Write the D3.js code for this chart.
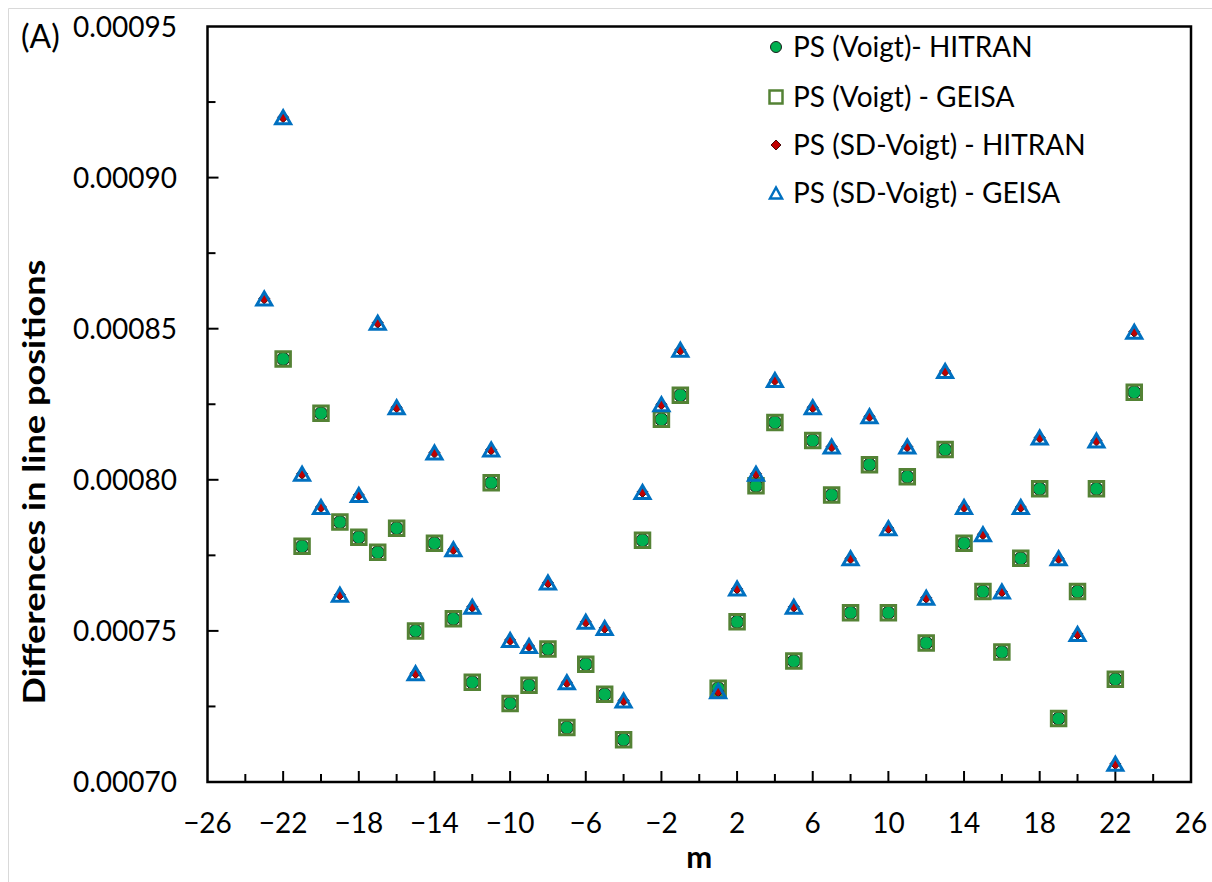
<!DOCTYPE html>
<html>
<head>
<meta charset="utf-8">
<script src="https://cdn.jsdelivr.net/npm/d3@7"></script>
<style>
  html, body { margin: 0; padding: 0; background: #fff; }
  svg { display: block; }
  text { font-family: Lato, "Open Sans", sans-serif; fill: #000; }
</style>
</head>
<body>
<svg id="chart" width="1212" height="882"></svg>
<script>
// ---- data ----
const mVoigt = [-22,-21,-20,-19,-18,-17,-16,-15,-14,-13,-12,-11,-10,-9,-8,-7,-6,-5,-4,-3,-2,-1,
                1,2,3,4,5,6,7,8,9,10,11,12,13,14,15,16,17,18,19,20,21,22,23];
const voigtHitran = [0.000840,0.000778,0.000822,0.000786,0.000781,0.000776,0.000784,0.000750,0.000779,0.000754,0.000733,0.000799,0.000726,0.000732,0.000744,0.000718,0.000739,0.000729,0.000714,0.000780,0.000820,0.000828,
                     0.000731,0.000753,0.000798,0.000819,0.000740,0.000813,0.000795,0.000756,0.000805,0.000756,0.000801,0.000746,0.000810,0.000779,0.000763,0.000743,0.000774,0.000797,0.000721,0.000763,0.000797,0.000734,0.000829];
const voigtGeisa  = [0.000840,0.000778,0.000822,0.000786,0.000781,0.000776,0.000784,0.000750,0.000779,0.000754,0.000733,0.000799,0.000726,0.000732,0.000744,0.000718,0.000739,0.000729,0.000714,0.000780,0.000820,0.000828,
                     0.000731,0.000753,0.000798,0.000819,0.000740,0.000813,0.000795,0.000756,0.000805,0.000756,0.000801,0.000746,0.000810,0.000779,0.000763,0.000743,0.000774,0.000797,0.000721,0.000763,0.000797,0.000734,0.000829];
const mSD = [-23,-22,-21,-20,-19,-18,-17,-16,-15,-14,-13,-12,-11,-10,-9,-8,-7,-6,-5,-4,-3,-2,-1,
             1,2,3,4,5,6,7,8,9,10,11,12,13,14,15,16,17,18,19,20,21,22,23];
const sdHitran = [0.000860,0.000920,0.000802,0.000791,0.000762,0.000795,0.000852,0.000824,0.000736,0.000809,0.000777,0.000758,0.000810,0.000747,0.000745,0.000766,0.000733,0.000753,0.000751,0.000727,0.000796,0.000825,0.000843,
                  0.000730,0.000764,0.000802,0.000833,0.000758,0.000824,0.000811,0.000774,0.000821,0.000784,0.000811,0.000761,0.000836,0.000791,0.000782,0.000763,0.000791,0.000814,0.000774,0.000749,0.000813,0.000706,0.000849];
const sdGeisa  = [0.000860,0.000920,0.000802,0.000791,0.000762,0.000795,0.000852,0.000824,0.000736,0.000809,0.000777,0.000758,0.000810,0.000747,0.000745,0.000766,0.000733,0.000753,0.000751,0.000727,0.000796,0.000825,0.000843,
                  0.000730,0.000764,0.000802,0.000833,0.000758,0.000824,0.000811,0.000774,0.000821,0.000784,0.000811,0.000761,0.000836,0.000791,0.000782,0.000763,0.000791,0.000814,0.000774,0.000749,0.000813,0.000706,0.000849];
const seriesNames = ["PS (Voigt)- HITRAN", "PS (Voigt) - GEISA", "PS (SD-Voigt) - HITRAN", "PS (SD-Voigt) - GEISA"];
const xTickValues = [-26,-22,-18,-14,-10,-6,-2,2,6,10,14,18,22,26];
const yTickValues = [0.00070,0.00075,0.00080,0.00085,0.00090,0.00095];
const panelLabel = "(A)";
const xTitle = "m";
const yTitle = "Differences in line positions";

// ---- layout ----
const svg = d3.select("#chart");
const L = 207.5, R = 1191, T = 26.5, B = 782;
const x = d3.scaleLinear().domain([-26, 26]).range([L, R]);
const y = d3.scaleLinear().domain([0.00070, 0.00095]).range([B, T]);

// light outer chart-area border
svg.append("path").attr("d", "M8.5,882 V8.5 H1212").attr("fill", "none")
   .attr("stroke", "#d9d9d9").attr("stroke-width", 1);

// ticks (inward), minor + major
const xMinor = d3.range(-24, 26, 2).filter(v => !xTickValues.includes(v));
const yMinor = d3.range(0.000725, 0.00095, 0.00005);
const tg = svg.append("g").attr("stroke", "#000").attr("stroke-width", 2);
tg.selectAll(".xmaj").data(xTickValues.slice(1, -1)).join("line")
  .attr("x1", d => x(d)).attr("x2", d => x(d)).attr("y1", B).attr("y2", B - 11);
tg.selectAll(".xmin").data(xMinor).join("line")
  .attr("x1", d => x(d)).attr("x2", d => x(d)).attr("y1", B).attr("y2", B - 8);
tg.selectAll(".ymaj").data(yTickValues.slice(1, -1)).join("line")
  .attr("y1", d => y(d)).attr("y2", d => y(d)).attr("x1", L).attr("x2", L + 11);
tg.selectAll(".ymin").data(yMinor).join("line")
  .attr("y1", d => y(d)).attr("y2", d => y(d)).attr("x1", L).attr("x2", L + 8);

// frame
svg.append("rect").attr("x", L).attr("y", T).attr("width", R - L).attr("height", B - T)
   .attr("fill", "none").attr("stroke", "#000").attr("stroke-width", 2.5);

// tick labels
svg.append("g").selectAll("text").data(xTickValues).join("text")
  .attr("x", d => x(d)).attr("y", 833).attr("text-anchor", "middle")
  .attr("font-size", 28).text(d => d3.format("d")(d));
svg.append("g").selectAll("text").data(yTickValues).join("text")
  .attr("x", 177).attr("y", d => y(d) + 10).attr("text-anchor", "end")
  .attr("font-size", 28).text(d => d3.format(".5f")(d));

// titles
svg.append("text").attr("x", 21).attr("y", 48).attr("font-size", 32).text(panelLabel);
svg.append("text").attr("x", x(0)).attr("y", 868).attr("text-anchor", "middle")
   .attr("font-size", 31).attr("font-weight", "bold").text(xTitle);
svg.append("text").attr("transform", "translate(45,482) rotate(-90)").attr("text-anchor", "middle")
   .attr("font-size", 31).attr("font-weight", "bold")
   .attr("textLength", 445).attr("lengthAdjust", "spacingAndGlyphs").text(yTitle);

// marker shapes
const sq = s => `M${-s/2},${-s/2}H${s/2}V${s/2}H${-s/2}Z`;
const tri = (w, h) => `M0,${-h/2}L${w/2},${h/2}L${-w/2},${h/2}Z`;
const dia = r => `M0,${-r}L${r},0L0,${r}L${-r},0Z`;

const styles = [
  {draw: g => g.append("circle").attr("r", 6.5).attr("fill", "#00b050").attr("stroke", "#1b1b1b").attr("stroke-width", 1)},
  {draw: g => g.append("path").attr("d", sq(14.5)).attr("fill", "none").attr("stroke", "#548235").attr("stroke-width", 3)},
  {draw: g => g.append("path").attr("d", dia(5.5)).attr("fill", "#c00000").attr("stroke", "#4a0b0b").attr("stroke-width", 1)},
  {draw: g => g.append("path").attr("d", tri(15, 13)).attr("fill", "none").attr("stroke", "#0070c0").attr("stroke-width", 3).attr("stroke-linejoin", "miter")}
];
const series = [
  {m: mVoigt, v: voigtHitran},
  {m: mVoigt, v: voigtGeisa},
  {m: mSD, v: sdHitran},
  {m: mSD, v: sdGeisa}
];
series.forEach((s, i) => {
  const g = svg.append("g");
  s.m.forEach((mv, j) => {
    const p = g.append("g").attr("transform", `translate(${x(mv)},${y(s.v[j])})`);
    styles[i].draw(p);
  });
});

// legend
const legY = [47, 97, 145, 193];
const leg = svg.append("g");
seriesNames.forEach((name, i) => {
  const p = leg.append("g").attr("transform", `translate(776,${legY[i]})`);
  if (i === 0) p.append("circle").attr("r", 5.5).attr("fill", "#00b050").attr("stroke", "#1b1b1b").attr("stroke-width", 1);
  if (i === 1) p.append("path").attr("d", sq(13)).attr("fill", "none").attr("stroke", "#548235").attr("stroke-width", 2.5);
  if (i === 2) p.append("path").attr("d", dia(5)).attr("fill", "#c00000").attr("stroke", "#4a0b0b").attr("stroke-width", 1);
  if (i === 3) p.append("path").attr("d", tri(12, 11)).attr("fill", "none").attr("stroke", "#0070c0").attr("stroke-width", 2.5);
  leg.append("text").attr("x", 793).attr("y", legY[i] + 10).attr("font-size", 28).text(name);
});
</script>
</body>
</html>
